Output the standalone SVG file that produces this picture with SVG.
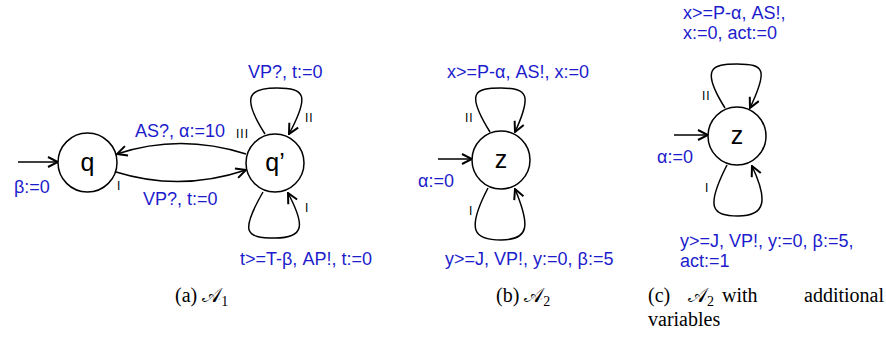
<svg xmlns="http://www.w3.org/2000/svg" width="886" height="345" viewBox="0 0 886 345">
<style>
.node{fill:#fff;stroke:#000;stroke-width:1.5}
.nl{font-family:"Liberation Sans",Arial,sans-serif;font-size:25px;fill:#000;text-anchor:middle}
.lab{font-family:"Liberation Sans",Arial,sans-serif;font-size:18px;fill:#1c1ccc}
.idx{font-family:"Liberation Sans",Arial,sans-serif;font-size:12px;fill:#000;letter-spacing:1px}
.edge{fill:none;stroke:#000;stroke-width:1.5;marker-end:url(#arr)}
.cap{font-family:"Liberation Serif","Times New Roman",serif;font-size:20px;fill:#000}
.cal{font-family:"DejaVu Serif","Liberation Serif",serif}
</style>
<defs>
<marker id="arr" viewBox="0 0 12 12" refX="11" refY="6" markerWidth="12" markerHeight="12" orient="auto" markerUnits="userSpaceOnUse">
<path d="M1,1 L11,6 L1,11" fill="none" stroke="#000" stroke-width="2"/>
</marker>
</defs>

<g id="connectors">
<path class="edge" d="M18,162 L58,162"/>
<path class="edge" d="M246,154 Q180,133 117,154"/>
<path class="edge" d="M116,172 Q180,192 246,170"/>
<path class="edge" d="M265,134 C240,95 250,88 277,88 C305,88 310,95 289,134"/>
<path class="edge" d="M263,192 C240,232 245,238 275,238 C305,238 305,225 288,193"/>
<path class="edge" d="M438,159 L472,159"/>
<path class="edge" d="M490,132 C465,92 475,88 501,88 C528,88 532,95 515,132"/>
<path class="edge" d="M488,188 C465,232 475,240 501,240 C530,240 530,225 515,189"/>
<path class="edge" d="M674,135 L708,135"/>
<path class="edge" d="M725,108 C700,68 712,64 737,64 C765,64 768,70 750,108"/>
<path class="edge" d="M727,165 C705,208 712,216 738,216 C766,216 768,200 752,166"/>
</g>

<g id="q">
<circle class="node" cx="87.5" cy="162.5" r="29.5"/>
<text class="nl" x="87.5" y="171">q</text>
</g>
<g id="qprime">
<circle class="node" cx="275" cy="163" r="29"/>
<text class="nl" x="275" y="171">q’</text>
</g>
<g id="z_b">
<circle class="node" cx="501" cy="160" r="29"/>
<text class="nl" x="501" y="168">z</text>
</g>
<g id="z_c">
<circle class="node" cx="737" cy="136" r="29"/>
<text class="nl" x="737" y="144">z</text>
</g>

<g id="labels">
<text class="lab" x="14" y="193">β:=0</text>
<text class="lab" x="135" y="137">AS?, α:=10</text>
<text class="idx" x="236" y="138">III</text>
<text class="lab" x="143" y="205">VP?, t:=0</text>
<text class="idx" x="117" y="190">I</text>
<text class="lab" x="248" y="78">VP?, t:=0</text>
<text class="idx" x="305" y="122">II</text>
<text class="idx" x="305" y="212">I</text>
<text class="lab" x="240" y="265">t&gt;=T-β, AP!, t:=0</text>

<text class="lab" x="447" y="78">x&gt;=P-α, AS!, x:=0</text>
<text class="idx" x="465" y="122">II</text>
<text class="lab" x="418" y="187">α:=0</text>
<text class="idx" x="469" y="215">I</text>
<text class="lab" x="445" y="265">y&gt;=J, VP!, y:=0, β:=5</text>

<text class="lab" x="683" y="19">x&gt;=P-α, AS!,</text>
<text class="lab" x="683" y="39">x:=0, act:=0</text>
<text class="idx" x="702" y="100">II</text>
<text class="lab" x="657" y="163">α:=0</text>
<text class="idx" x="705" y="192">I</text>
<text class="lab" x="680" y="247">y&gt;=J, VP!, y:=0, β:=5,</text>
<text class="lab" x="680" y="267">act:=1</text>
</g>

<g id="captions">
<text class="cap" x="175" y="302">(a) <tspan class="cal">𝒜</tspan><tspan font-size="14" dy="4">1</tspan></text>
<text class="cap" x="496" y="302">(b) <tspan class="cal">𝒜</tspan><tspan font-size="14" dy="4">2</tspan></text>
<text class="cap" x="648" y="302">(c)</text>
<text class="cap" x="688" y="302"><tspan class="cal">𝒜</tspan><tspan font-size="14" dy="4">2</tspan></text>
<text class="cap" x="722" y="302">with</text>
<text class="cap" x="884" y="302" text-anchor="end">additional</text>
<text class="cap" x="648" y="326">variables</text>
</g>
</svg>
